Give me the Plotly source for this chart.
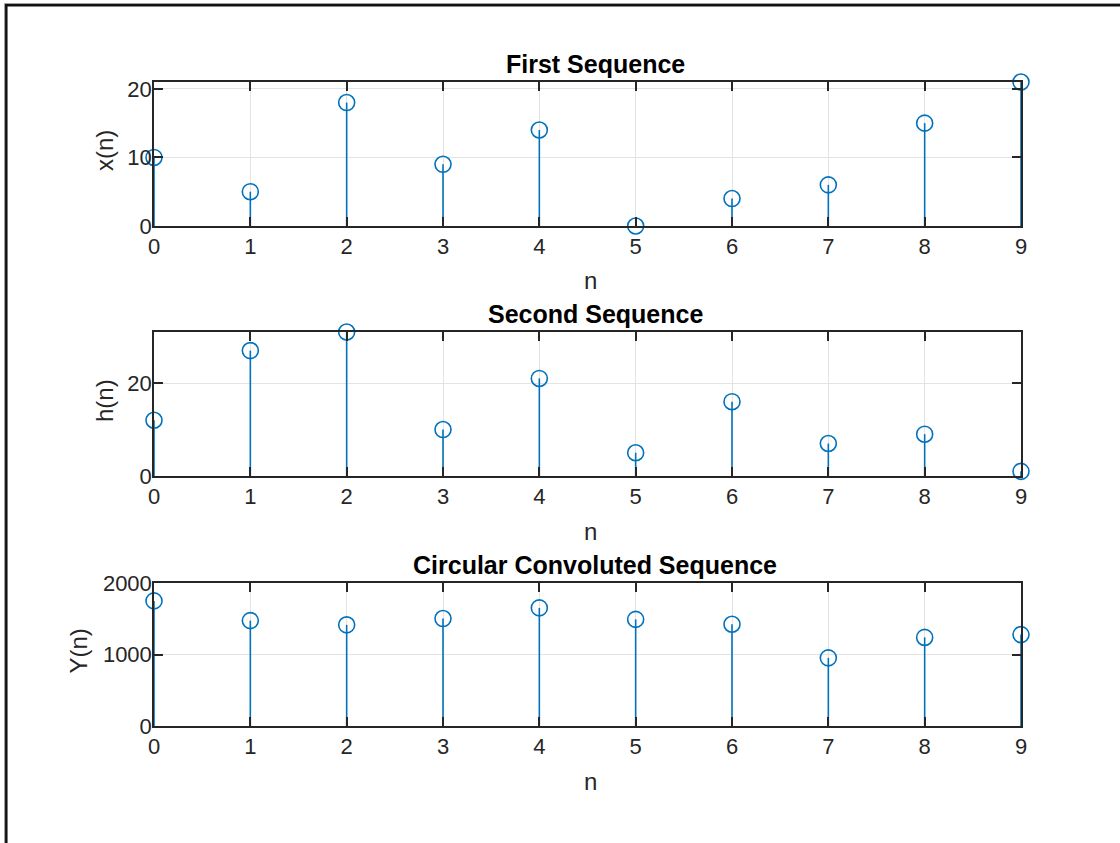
import plotly.graph_objects as go

n = list(range(10))
x_vals = [10, 5, 18, 9, 14, 0, 4, 6, 15, 21]
h_vals = [12, 27, 31, 10, 21, 5, 16, 7, 9, 1]
y_vals = [1750, 1474, 1415, 1503, 1652, 1491, 1423, 953, 1239, 1278]

titles = ["First Sequence", "Second Sequence", "Circular Convoluted Sequence"]
ylabels = ["x(n)", "h(n)", "Y(n)"]
xlabel = "n"
y_ranges = [[0, 21], [0, 31], [0, 2000]]
y_ticks = [[0, 10, 20], [0, 20], [0, 1000, 2000]]
x_ticks = list(range(10))

W, H = 1120, 843
BLUE = "#0072BD"
AX = "#262626"
GRID = "#e3e3e3"
FONT = "Liberation Sans, Arial, Helvetica, sans-serif"

boxes = [(154, 1021, 82, 226), (154, 1021, 332, 476), (154, 1021, 583, 726)]
ylab_x = [105, 104, 78]

def px(xp):
    return xp / W

def py(yp):
    return 1 - yp / H

fig = go.Figure()
series = [x_vals, h_vals, y_vals]
annotations = []
for i, vals in enumerate(series):
    ax = "" if i == 0 else str(i + 1)
    sx = []
    sy = []
    for k, v in zip(n, vals):
        sx += [k, k, None]
        sy += [0, v, None]
    fig.add_trace(go.Scatter(x=sx, y=sy, mode="lines",
                             line=dict(color=BLUE, width=1.6),
                             xaxis="x" + ax, yaxis="y" + ax,
                             showlegend=False, hoverinfo="skip"))
    fig.add_trace(go.Scatter(x=n, y=vals, mode="markers",
                             marker=dict(symbol="circle-open", size=16, color=BLUE,
                                         line=dict(color=BLUE, width=1.6)),
                             cliponaxis=False,
                             xaxis="x" + ax, yaxis="y" + ax, showlegend=False))
    l, r, t, b = boxes[i]
    common = dict(showline=True, linecolor=AX, linewidth=1.5, mirror="allticks",
                  ticks="inside", ticklen=9, tickwidth=1.5, tickcolor=AX,
                  showgrid=True, gridcolor=GRID, gridwidth=1, zeroline=False,
                  automargin=False,
                  tickfont=dict(family=FONT, size=22, color=AX))
    fig.layout["xaxis" + ax] = dict(common, domain=[px(l), px(r)], range=[0, 9],
                                    tickmode="array", tickvals=x_ticks,
                                    anchor="y" + ax)
    fig.layout["yaxis" + ax] = dict(common, domain=[py(b), py(t)], range=y_ranges[i],
                                    tickmode="array", tickvals=y_ticks[i],
                                    anchor="x" + ax, ticklabelstandoff=-4)
    annotations.append(dict(text="<b>" + titles[i] + "</b>", x=px(595), y=py(t - 18),
                            xref="paper", yref="paper", xanchor="center", yanchor="middle",
                            showarrow=False, font=dict(family=FONT, size=25, color="#000000")))
    annotations.append(dict(text=xlabel, x=px((l + r) / 2 + 3), y=py(b + 55),
                            xref="paper", yref="paper", xanchor="center", yanchor="middle",
                            showarrow=False, font=dict(family=FONT, size=24, color=AX)))
    annotations.append(dict(text=ylabels[i], x=px(ylab_x[i]), y=py((t + b) / 2 - 3),
                            xref="paper", yref="paper", xanchor="center", yanchor="middle",
                            textangle=-90, showarrow=False,
                            font=dict(family=FONT, size=24, color=AX)))

shapes = [
    dict(type="line", xref="paper", yref="paper", x0=px(4.5), x1=px(4.5), y0=0, y1=py(3.5),
         line=dict(color="#a0a0a0", width=1)),
    dict(type="line", xref="paper", yref="paper", x0=px(4.5), x1=1, y0=py(3.5), y1=py(3.5),
         line=dict(color="#a0a0a0", width=1)),
    dict(type="line", xref="paper", yref="paper", x0=px(6.3), x1=px(6.3), y0=0, y1=py(5.3),
         line=dict(color="#111111", width=2.5)),
    dict(type="line", xref="paper", yref="paper", x0=px(5), x1=1, y0=py(5.3), y1=py(5.3),
         line=dict(color="#111111", width=2.5)),
]

fig.update_layout(width=W, height=H, margin=dict(l=0, r=0, t=0, b=0, pad=0, autoexpand=False),
                  paper_bgcolor="white", plot_bgcolor="white",
                  annotations=annotations, shapes=shapes, showlegend=False,
                  font=dict(family=FONT))
fig.write_html("out.html", config={"displayModeBar": False},
               post_script="document.body.style.margin='0';")
